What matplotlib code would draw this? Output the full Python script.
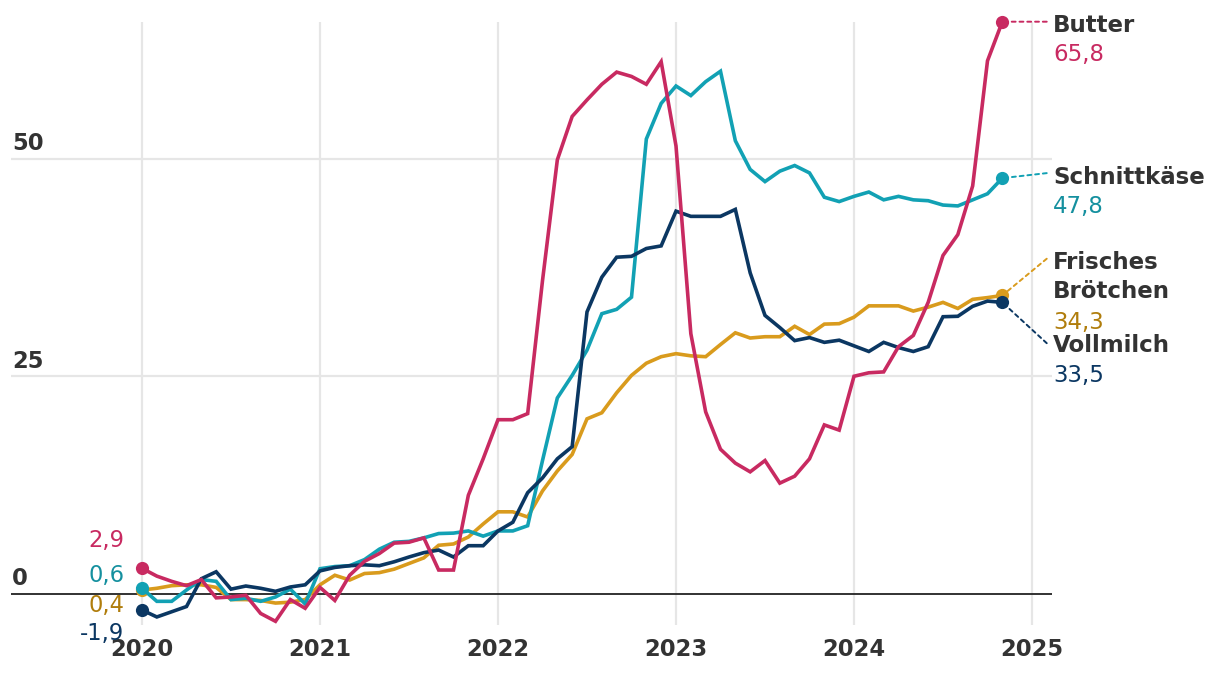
import matplotlib
matplotlib.use("Agg")
import matplotlib.pyplot as plt
import pandas as pd
import numpy as np

plt.rcParams['font.family'] = ['DejaVu Sans']

months = pd.date_range("2020-01-01", "2024-11-01", freq="MS")

butter = [2.9, 2.0, 1.4, 0.9, 1.6, -0.5, -0.4, -0.2, -2.3, -3.2, -0.7, -1.7,
          0.7, -0.8, 2.1, 3.7, 4.6, 5.8, 5.9, 6.4, 2.7, 2.7, 11.3, 15.5,
          20.0, 20.0, 20.7, 36.0, 49.9, 54.9, 56.8, 58.6, 60.0, 59.5, 58.6, 61.2,
          51.5, 29.9, 20.9, 16.6, 15.0, 14.0, 15.3, 12.7, 13.5, 15.5, 19.4, 18.8,
          25.0, 25.4, 25.5, 28.4, 29.7, 33.5, 38.9, 41.3, 46.9, 61.3, 65.8]

schnittkaese = [0.6, -0.9, -0.9, 0.4, 1.6, 1.4, -0.7, -0.55, -0.9, -0.4, 0.5, -1.2,
                2.85, 3.1, 3.2, 3.9, 5.1, 5.9, 6.0, 6.4, 6.9, 6.95, 7.2, 6.6,
                7.2, 7.2, 7.8, 15.3, 22.5, 25.1, 28.0, 32.2, 32.7, 34.1, 52.3, 56.4,
                58.4, 57.3, 58.9, 60.1, 52.1, 48.8, 47.4, 48.6, 49.25, 48.4, 45.6, 45.1,
                45.7, 46.2, 45.3, 45.7, 45.3, 45.2, 44.7, 44.6, 45.3, 46.0, 47.8]

vollmilch = [-1.9, -2.7, -2.1, -1.5, 1.7, 2.5, 0.5, 0.86, 0.6, 0.25, 0.75, 1.0,
             2.6, 3.0, 3.2, 3.3, 3.2, 3.65, 4.2, 4.7, 5.0, 4.2, 5.5, 5.5,
             7.2, 8.2, 11.6, 13.3, 15.5, 16.9, 32.4, 36.4, 38.7, 38.8, 39.7, 40.0,
             44.0, 43.4, 43.4, 43.4, 44.2, 36.9, 32.0, 30.6, 29.1, 29.45, 28.9, 29.15,
             28.5, 27.85, 28.9, 28.3, 27.85, 28.4, 31.85, 31.9, 33.05, 33.65, 33.5]

broetchen = [0.4, 0.6, 0.9, 1.0, 1.0, 0.7, -0.7, -0.7, -0.8, -1.1, -1.0, -0.7,
             1.0, 2.1, 1.55, 2.3, 2.4, 2.8, 3.45, 4.1, 5.55, 5.7, 6.5, 8.0,
             9.4, 9.4, 8.8, 11.8, 14.1, 16.0, 20.1, 20.8, 23.1, 25.1, 26.5, 27.25,
             27.6, 27.35, 27.25, 28.65, 30.0, 29.4, 29.55, 29.55, 30.75, 29.8, 31.0, 31.05,
             31.8, 33.1, 33.1, 33.1, 32.5, 32.95, 33.5, 32.8, 33.85, 34.05, 34.3]

start_labels = ["2,9", "0,6", "0,4", "-1,9"]
end_labels = ["65,8", "47,8", "34,3", "33,5"]
names = ["Butter", "Schnittkäse", "Frisches\nBrötchen", "Vollmilch"]

year_ticks = [2020, 2021, 2022, 2023, 2024, 2025]
y_ticks = [0, 25, 50]

x = np.array([d.year + (d.month - 1) / 12 for d in months])

c_butter = "#c82a61"
c_teal = "#12a1b4"
c_navy = "#0b3762"
c_gold = "#d99b1d"
t_butter = "#c82a61"
t_teal = "#15909f"
t_navy = "#0b3762"
t_gold = "#b07d0c"
dark = "#333333"

W, H = 1220, 674
fig = plt.figure(figsize=(W / 100, H / 100), dpi=100)
left_px, right_px, top_px, bot_px = 11, 1052, 22, 625
ax = fig.add_axes([left_px / W, 1 - bot_px / H, (right_px - left_px) / W, (bot_px - top_px) / H])

# scale: 2020 at px 142, 178 px / year ; 0 at py 593.5, 8.69 px / unit
xpy = 178.0
ax.set_xlim(2020 - (142 - left_px) / xpy, 2020 + (right_px - 142) / xpy)
ypu = 8.69
ax.set_ylim(-(bot_px - 593.5) / ypu, (593.5 - top_px) / ypu)

for s in ax.spines.values():
    s.set_visible(False)
ax.set_yticks([])
ax.set_xticks(year_ticks)
ax.set_xticklabels([str(y) for y in year_ticks], fontsize=16.3, fontweight='bold', color=dark)
ax.tick_params(axis='x', length=0, pad=9)

for yr in year_ticks:
    ax.axvline(yr, color="#e6e6e6", lw=1.6, zorder=0)
for yv in y_ticks:
    if yv == 0:
        ax.axhline(0, color="#222222", lw=1.3, zorder=1.5)
    else:
        ax.axhline(yv, color="#e6e6e6", lw=1.6, zorder=0)
    ax.annotate(str(yv), xy=(0, yv), xycoords=ax.get_yaxis_transform(),
                xytext=(1, 8.5), textcoords='offset pixels', ha='left', va='baseline',
                fontsize=16.3, fontweight='bold', color=dark)

series = [
    (broetchen, c_gold, t_gold),
    (schnittkaese, c_teal, t_teal),
    (vollmilch, c_navy, t_navy),
    (butter, c_butter, t_butter),
]
for i, (vals, c, tc) in enumerate(series):
    ax.plot(x, vals, color=c, lw=2.6, zorder=3 + i, clip_on=False, solid_joinstyle='miter')
    ax.plot([x[0], x[-1]], [vals[0], vals[-1]], 'o', color=c, ms=9.5, zorder=3 + i, clip_on=False,
            markeredgewidth=0)

# start labels (offset pixels: dx, dy baseline)
start_info = [
    (butter, start_labels[0], t_butter, 21),
    (schnittkaese, start_labels[1], t_teal, 6),
    (broetchen, start_labels[2], t_gold, -21.5),
    (vollmilch, start_labels[3], t_navy, -30),
]
for vals, lab, tc, dy in start_info:
    ax.annotate(lab, xy=(x[0], vals[0]), xytext=(-18, dy), textcoords='offset pixels',
                ha='right', va='baseline', fontsize=16.3, color=tc, zorder=2, annotation_clip=False)

# end labels
end_info = [
    (butter, names[0], end_labels[0], c_butter, t_butter, 0, [-10.3], -39.7),
    (schnittkaese, names[1], end_labels[1], c_teal, t_teal, 5, [-6], -35.3),
    (broetchen, names[2], end_labels[2], c_gold, t_gold, 36.7, [26.7, -2.7], -33.3),
    (vollmilch, names[3], end_labels[3], c_navy, t_navy, -40.8, [-49.2], -79.2),
]
for vals, name, val, c, tc, cdy, name_dys, val_dy in end_info:
    ax.annotate('', xy=(x[-1], vals[-1]), xytext=(44.4, cdy), textcoords='offset pixels',
                arrowprops=dict(arrowstyle='-', color=c, lw=1.4, linestyle=(0, (2, 2)),
                                shrinkA=0, shrinkB=0), zorder=2, annotation_clip=False)
    for part, ndy in zip(name.split("\n"), name_dys):
        ax.annotate(part, xy=(x[-1], vals[-1]), xytext=(51, ndy), textcoords='offset pixels',
                    ha='left', va='baseline', fontsize=16.5, fontweight='bold', color=dark,
                    annotation_clip=False)
    ax.annotate(val, xy=(x[-1], vals[-1]), xytext=(51, val_dy), textcoords='offset pixels',
                ha='left', va='baseline', fontsize=16.5, color=tc, annotation_clip=False)

fig.savefig("out.png", dpi=100, facecolor="white")
